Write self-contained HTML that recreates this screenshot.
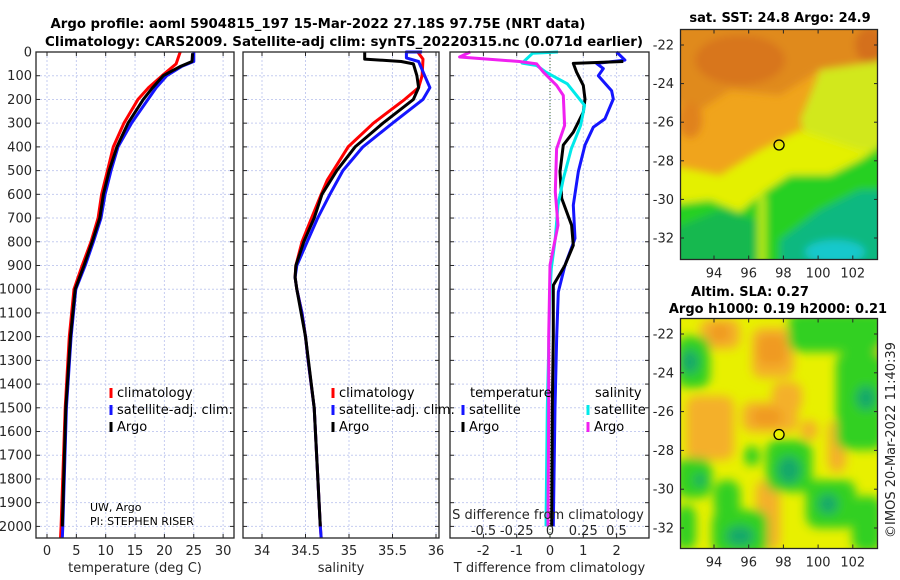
<!DOCTYPE html>
<html><head><meta charset="utf-8">
<style>
html,body{margin:0;padding:0;background:#fff;}
svg{display:block;font-family:"DejaVu Sans","Liberation Sans",sans-serif;}
</style></head>
<body>
<svg id="fig" width="900" height="580" viewBox="0 0 900 580" xmlns="http://www.w3.org/2000/svg">
<defs>
<filter id="blur6" x="-50%" y="-50%" width="200%" height="200%"><feGaussianBlur stdDeviation="5"/></filter>
<filter id="blur3" x="-50%" y="-50%" width="200%" height="200%"><feGaussianBlur stdDeviation="4"/></filter>
<clipPath id="clipSST"><rect x="681" y="30" width="196" height="229"/></clipPath>
<clipPath id="clipSLA"><rect x="681" y="319" width="196" height="229"/></clipPath>
</defs>
<g font-weight="bold" font-size="13" fill="#000" text-anchor="middle">
<text x="318" y="28" textLength="535" lengthAdjust="spacingAndGlyphs">Argo profile: aoml 5904815_197 15-Mar-2022 27.18S 97.75E (NRT data)</text>
<text x="344" y="46" textLength="598" lengthAdjust="spacingAndGlyphs">Climatology: CARS2009. Satellite-adj clim: synTS_20220315.nc (0.071d earlier)</text>
</g>
<g id="panels"></g>
<g id="maps"></g>
</svg>
<script>
// ---------- DATA ----------
const depthTicks = [0,100,200,300,400,500,600,700,800,900,1000,1100,1200,1300,1400,1500,1600,1700,1800,1900,2000];
const tempTicks = [0,5,10,15,20,25,30];
const salTicks = [34,34.5,35,35.5,36];
const salTickLabels = ["34","34.5","35","35.5","36"];
const tdiffTicks = [-2,-1,0,1,2];
const sdiffTickLabels = ["-0.5","-0.25","0","0.25","0.5"];
const sdiffTicks = [-0.5,-0.25,0,0.25,0.5];

const tempClimDepth = [0,50,100,150,200,300,400,500,600,700,800,900,1000,1200,1500,2000,2050];
const tempClim      = [22.7,22,19.6,17.3,15.5,13.1,11.3,10.3,9.3,8.7,7.5,6.0,4.6,3.8,3.1,2.4,2.3];
const tempSatDepth  = [0,40,60,100,150,200,300,400,500,600,700,800,900,1000,1200,1500,2000,2050];
const tempSat       = [25,25,23,20.4,18.6,17.2,14.4,12.1,10.9,9.9,9.2,7.9,6.5,4.9,4.1,3.3,2.7,2.6];
const tempArgoDepth = [5,40,60,100,150,200,300,400,500,600,700,800,900,1000,1200,1500,2000];
const tempArgo      = [24.8,24.7,22.8,19.8,18,16.4,13.8,11.9,10.6,9.6,9.0,7.7,6.3,4.8,4.0,3.2,2.6];

const salClimDepth = [0,30,100,150,200,300,400,500,540,600,700,800,900,950,1000,1100,1200,1300,1500,2000,2050];
const salClim      = [35.79,35.85,35.84,35.8,35.64,35.28,34.99,34.82,34.75,34.68,34.57,34.46,34.39,34.38,34.4,34.46,34.5,34.53,34.6,34.67,34.68];
const salSatDepth  = [0,0,25,40,100,150,200,300,400,500,540,600,700,800,900,950,1000,1100,1200,1300,1500,2000,2050];
const salSat       = [35.84,35.66,35.66,35.8,35.87,35.93,35.85,35.5,35.16,34.93,34.87,34.78,34.64,34.52,34.4,34.38,34.4,34.46,34.5,34.53,34.6,34.67,34.68];
const salArgoDepth = [0,30,40,50,100,150,200,300,400,500,600,700,800,900,950,1000,1200,1500,2000];
const salArgo      = [35.18,35.18,35.6,35.74,35.78,35.8,35.74,35.39,35.07,34.86,34.69,34.6,34.48,34.39,34.38,34.4,34.5,34.6,34.67];

const tdSatDepth  = [0,34,48,70,100,163,198,282,317,392,505,646,786,899,1012,1200,1500,2000];
const tdSat       = [2.0,2.25,1.4,1.6,1.45,1.85,1.9,1.65,1.3,1.05,0.85,0.7,0.75,0.45,0.25,0.2,0.15,0.1];
const tdArgoDepth = [40,48,85,141,198,254,338,392,505,617,730,815,899,983,1200,1500,2000];
const tdArgo      = [2.2,0.7,0.8,1.0,1.05,1.0,0.7,0.4,0.3,0.35,0.65,0.7,0.45,0.1,0.1,0.07,0.05];
const sdSatDepth  = [0,5,47,57,85,134,225,310,408,535,646,786,913,1012,1500,2000];
const sdSat       = [0.06,-0.13,-0.21,-0.1,-0.03,0.13,0.26,0.23,0.16,0.1,0.06,0.04,0.01,0,-0.02,-0.03];
const sdArgoDepth = [0,21,40,50,85,141,183,310,408,590,730,899,1200,1500,2000];
const sdArgo      = [-0.6,-0.68,-0.23,-0.1,-0.05,0.05,0.1,0.11,0.05,0.04,0.06,0,-0.01,-0.01,-0.015];

const latTicks = [-22,-24,-26,-28,-30,-32];
const lonTicks = [94,96,98,100,102];
const argoLon = 97.75, argoLat = -27.18;

// ---------- SCALES ----------
const TOP = 52, BOT = 538;
const yD = d => TOP + d * 0.2372;
const xT = t => 47 + t * 5.87;
const xS = s => 262 + (s - 34) * 87;
const xTD = v => 550 + v * 33.3;
const xSD = v => 550 + v * 133;
const xLon = l => 714 + (l - 94) * 17.35;
const yLat = l => 45 + (-22 - l) * 19.3;
const yLat2 = l => 334 + (-22 - l) * 19.4;

const NS = "http://www.w3.org/2000/svg";
function mk(tag, attrs, parent){const e=document.createElementNS(NS,tag);for(const k in attrs)e.setAttribute(k,attrs[k]);parent.appendChild(e);return e;}
const panels = document.getElementById('panels');

function line(parent, xs, ys, xf, color, name, w){
  const d = xs.map((v,i)=>(i?'L':'M')+xf(v).toFixed(1)+','+yD(ys[i]).toFixed(1)).join('');
  const p = mk('path',{d:d,fill:'none',stroke:color,'stroke-width':w||3,'stroke-linejoin':'round'},parent);
  
  
  return p;
}

function frame(x0,x1,name,xticksPos,xLabels,xTitle,showDepth){
  const g = mk('g',{},panels);
  
  
  depthTicks.forEach(d=>{mk('line',{x1:x0,x2:x1,y1:yD(d),y2:yD(d),stroke:'#c6cdf0','stroke-width':1,'stroke-dasharray':'2,2'},g);});
  xticksPos.forEach(x=>{mk('line',{x1:x,x2:x,y1:TOP,y2:BOT,stroke:'#c6cdf0','stroke-width':1,'stroke-dasharray':'2,2'},g);});
  depthTicks.forEach(d=>{
    mk('line',{x1:x0,x2:x0+4,y1:yD(d),y2:yD(d),stroke:'#262626'},g);
    mk('line',{x1:x1-4,x2:x1,y1:yD(d),y2:yD(d),stroke:'#262626'},g);
  });
  xticksPos.forEach((x,i)=>{
    mk('line',{x1:x,x2:x,y1:BOT,y2:BOT-4,stroke:'#262626'},g);
    mk('line',{x1:x,x2:x,y1:TOP,y2:TOP+4,stroke:'#262626'},g);
    const t = mk('text',{x:x,y:555,'font-size':13,'text-anchor':'middle',fill:'#262626'},g);
    t.textContent = xLabels[i];
    
    
  });
  const tt = mk('text',{x:(x0+x1)/2,y:572,'font-size':13,'text-anchor':'middle',fill:'#262626'},g);
  tt.textContent = xTitle;
  
  
  if(showDepth){
    depthTicks.forEach(d=>{
      const t = mk('text',{x:32,y:yD(d)+4.5,'font-size':13,'text-anchor':'end',fill:'#262626'},g);
      t.textContent = d;
      
      
    });
  }
  return g;
}
function frameBox(x0,x1,g){
  mk('rect',{x:x0,y:TOP,width:x1-x0,height:BOT-TOP,fill:'none',stroke:'#262626','stroke-width':1.3},g);
}

const g1 = frame(36,234,'temperature-panel',tempTicks.map(xT),tempTicks.map(String),'temperature (deg C)',true);
line(g1,tempClim,tempClimDepth,xT,'#ff0000','temp-climatology-line');
line(g1,tempSat,tempSatDepth,xT,'#1515ff','temp-satellite-line');
line(g1,tempArgo,tempArgoDepth,xT,'#000000','temp-argo-line');
frameBox(36,234,g1);

const g2 = frame(243,439,'salinity-panel',salTicks.map(xS),salTickLabels,'salinity',false);
line(g2,salClim,salClimDepth,xS,'#ff0000','sal-climatology-line');
line(g2,salSat,salSatDepth,xS,'#1515ff','sal-satellite-line');
line(g2,salArgo,salArgoDepth,xS,'#000000','sal-argo-line');
frameBox(243,439,g2);

const g3 = frame(450,649,'difference-panel',tdiffTicks.map(xTD),tdiffTicks.map(String),'T difference from climatology',false);
mk('line',{x1:550,x2:550,y1:TOP,y2:BOT,stroke:'#3d6b2e','stroke-width':1,'stroke-dasharray':'1,2'},g3);
line(g3,tdSat,tdSatDepth,xTD,'#1515ff','tdiff-satellite-line');
line(g3,tdArgo,tdArgoDepth,xTD,'#000000','tdiff-argo-line');
line(g3,sdSat,sdSatDepth,xSD,'#00eaea','sdiff-satellite-line');
line(g3,sdArgo,sdArgoDepth,xSD,'#f020f0','sdiff-argo-line');
frameBox(450,649,g3);
{
  const t = mk('text',{x:548,y:519,'font-size':13,'text-anchor':'middle',fill:'#262626'},g3);
  t.textContent = 'S difference from climatology';
  
  
  sdiffTicks.forEach((v,i)=>{
    const s = mk('text',{x:xSD(v),y:535,'font-size':13,'text-anchor':'middle',fill:'#262626'},g3);
    s.textContent = sdiffTickLabels[i];
    
    
  });
}

function legendEntry(g,x,y,color,label){
  const e = mk('g',{},g);
  
  
  mk('line',{x1:x,x2:x,y1:y-9,y2:y+1,stroke:color,'stroke-width':3},e);
  const t = mk('text',{x:x+6,y:y,'font-size':13,fill:'#000'},e);
  t.textContent = label;
}
legendEntry(g1,111,397,'#ff0000','climatology');
legendEntry(g1,111,414,'#1515ff','satellite-adj. clim.');
legendEntry(g1,111,431,'#000000','Argo');
legendEntry(g2,333,397,'#ff0000','climatology');
legendEntry(g2,333,414,'#1515ff','satellite-adj. clim.');
legendEntry(g2,333,431,'#000000','Argo');
{
  const t1 = mk('text',{x:470,y:397,'font-size':13,fill:'#000'},g3); t1.textContent='temperature';
  
  
  const t2 = mk('text',{x:595,y:397,'font-size':13,fill:'#000'},g3); t2.textContent='salinity';
  
  
}
legendEntry(g3,463,414,'#1515ff','satellite');
legendEntry(g3,463,431,'#000000','Argo');
legendEntry(g3,588,414,'#00eaea','satellite');
legendEntry(g3,588,431,'#f020f0','Argo');
{
  const a = mk('text',{x:90,y:511,'font-size':11,fill:'#000'},g1); a.textContent='UW, Argo';
  
  
  const b = mk('text',{x:90,y:525,'font-size':11,fill:'#000'},g1); b.textContent='PI: STEPHEN RISER';
  
  
}

// ---------- MAPS ----------
const maps = document.getElementById('maps');
function mapAxes(g, yf, y0, y1){
  mk('rect',{x:680.5,y:y0,width:197,height:y1-y0,fill:'none',stroke:'#262626','stroke-width':1.3},g);
  latTicks.forEach(l=>{
    const y = yf(l);
    mk('line',{x1:680,x2:684,y1:y,y2:y,stroke:'#262626'},g);
    mk('line',{x1:874,x2:878,y1:y,y2:y,stroke:'#262626'},g);
    const t = mk('text',{x:674,y:y+4.5,'font-size':13,'text-anchor':'end',fill:'#262626'},g);
    t.textContent = l;
    
    
  });
  lonTicks.forEach(l=>{
    const x = xLon(l);
    mk('line',{x1:x,x2:x,y1:y1,y2:y1-4,stroke:'#262626'},g);
    mk('line',{x1:x,x2:x,y1:y0,y2:y0+4,stroke:'#262626'},g);
    const t = mk('text',{x:x,y:y1+18,'font-size':13,'text-anchor':'middle',fill:'#262626'},g);
    t.textContent = l;
    
    
  });
}
// SST map
const gm1 = mk('g',{},maps);


const sst = mk('g',{'clip-path':'url(#clipSST)'},gm1);
mk('rect',{x:681,y:30,width:196,height:229,fill:'#f0a41c'},sst);
const sstB = mk('g',{filter:'url(#blur3)'},sst);
mk('path',{d:'M670,20 L890,20 L890,60 L860,80 L820,70 L780,95 L730,90 L700,110 L670,100 Z',fill:'#e08a1e'},sstB);
mk('ellipse',{cx:740,cy:60,rx:45,ry:25,fill:'#d8761c'},sstB);
mk('ellipse',{cx:870,cy:45,rx:15,ry:18,fill:'#d4701a'},sstB);
mk('ellipse',{cx:690,cy:120,rx:12,ry:18,fill:'#e0821c'},sstB);
mk('path',{d:'M820,70 L890,60 L890,150 L850,160 L810,150 L800,120 Z',fill:'#d2e81a'},sstB);
mk('path',{d:'M670,165 L720,175 L760,150 L800,130 L830,140 L860,150 L890,150 L890,270 L670,270 Z',fill:'#e4f000'},sstB);
mk('path',{d:'M670,205 L710,200 L740,212 L760,195 L790,175 L830,175 L860,160 L890,140 L890,270 L670,270 Z',fill:'#28d020'},sstB);
mk('path',{d:'M670,230 L720,210 L755,220 L755,270 L670,270 Z',fill:'#16b850'},sstB);
mk('path',{d:'M780,240 L820,210 L860,190 L890,190 L890,270 L780,270 Z',fill:'#10b880'},sstB);
mk('ellipse',{cx:835,cy:252,rx:30,ry:12,fill:'#16c8cc'},sstB);
mk('rect',{x:758,y:195,width:8,height:70,fill:'#b8e818'},sstB);
mapAxes(gm1, yLat, 29.5, 259.5);
{
  const c = mk('circle',{cx:xLon(argoLon),cy:yLat(argoLat),r:5,fill:'none',stroke:'#000','stroke-width':1.3},gm1);
  
  
  const t = mk('text',{x:780,y:22,'font-size':13,'font-weight':'bold','text-anchor':'middle',fill:'#000'},gm1);
  t.textContent = 'sat. SST: 24.8 Argo: 24.9';
  
  
}
// SLA map
const gm2 = mk('g',{},maps);


const sla = mk('g',{'clip-path':'url(#clipSLA)'},gm2);
mk('rect',{x:681,y:319,width:196,height:229,fill:'#e8f000'},sla);
const slaB = mk('g',{filter:'url(#blur6)'},sla);
const orange = '#f4b02a', orange2='#f09a20', green='#30d020', teal='#14a86a';
// orange regions [x,y,w,h]
[[700,319,40,30],[752,328,42,50],[772,382,30,30],[742,402,56,30],[686,396,48,64],[852,332,30,40],[828,420,18,52],[756,480,24,70],[800,420,18,20]].forEach(e=>mk('rect',{x:e[0],y:e[1],width:e[2],height:e[3],rx:10,fill:orange},slaB));
[[710,324,20,18],[758,335,28,30],[752,408,30,18]].forEach(e=>mk('rect',{x:e[0],y:e[1],width:e[2],height:e[3],rx:8,fill:orange2},slaB));
// green regions
[[676,336,34,52],[676,458,36,40],[788,312,95,40],[836,352,48,98],[766,440,46,52],[712,510,56,45],[806,480,50,48],[852,496,30,56],[714,480,26,38],[676,505,20,45],[744,446,16,20],[700,312,0,0],[868,312,20,16]].forEach(e=>mk('rect',{x:e[0],y:e[1],width:e[2],height:e[3],rx:12,fill:green},slaB));
[[690,362,9,12],[866,398,10,12],[789,470,12,14],[740,536,14,10],[828,504,10,10],[700,480,6,6]].forEach(e=>mk('ellipse',{cx:e[0],cy:e[1],rx:e[2],ry:e[3],fill:teal},slaB));
mapAxes(gm2, yLat2, 318.5, 548.5);
{
  const c = mk('circle',{cx:xLon(argoLon),cy:yLat2(argoLat),r:5,fill:'#e8f000',stroke:'#000','stroke-width':1.3},gm2);
  
  
  const t1 = mk('text',{x:750,y:296,'font-size':13,'font-weight':'bold','text-anchor':'middle',fill:'#000'},gm2);
  t1.textContent = 'Altim. SLA: 0.27';
  
  
  const t2 = mk('text',{x:778,y:313,'font-size':13,'font-weight':'bold','text-anchor':'middle',fill:'#000'},gm2);
  t2.textContent = 'Argo h1000: 0.19 h2000: 0.21';
  
  
  const t3 = mk('text',{x:0,y:0,'font-size':13,'text-anchor':'middle',fill:'#262626',transform:'translate(895,440) rotate(-90)'},gm2);
  t3.textContent = '©IMOS 20-Mar-2022 11:40:39';
  
  
}
</script>
</body></html>
